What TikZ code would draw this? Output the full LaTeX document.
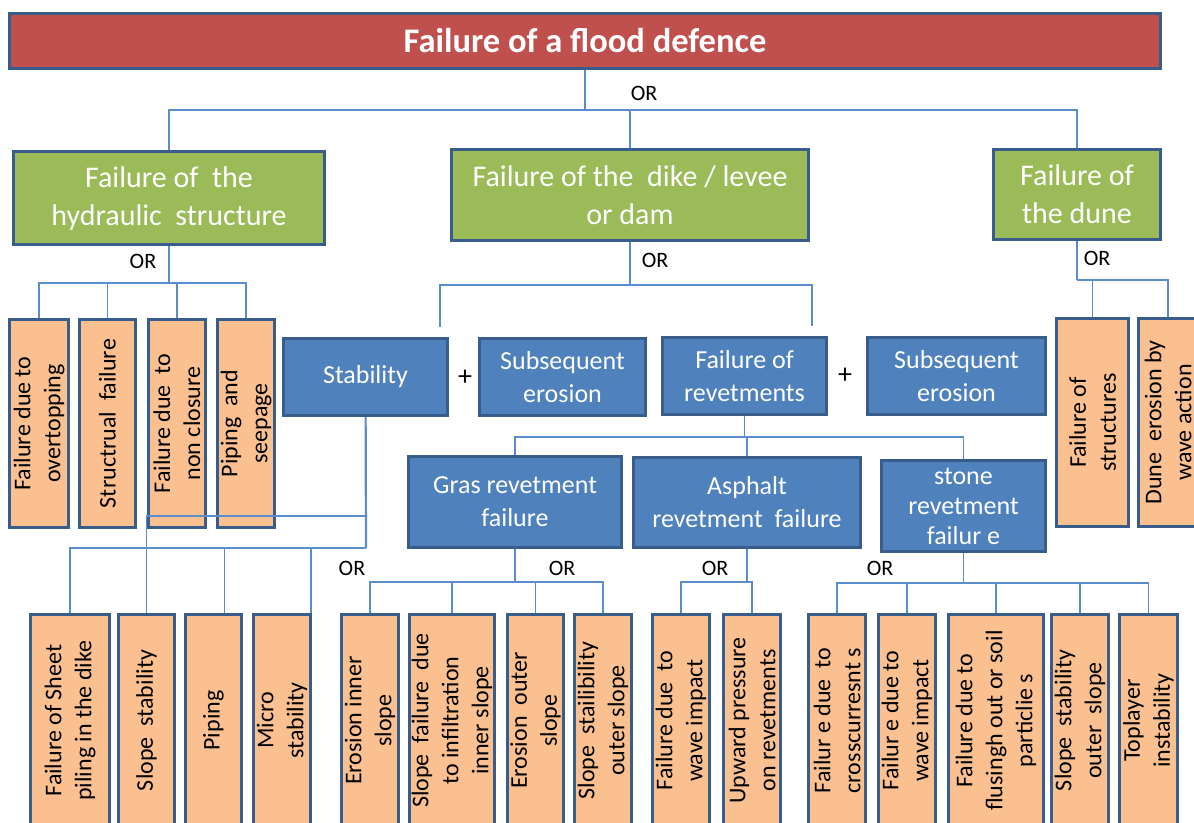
\documentclass[tikz,border=0pt]{standalone}
\usepackage{fontspec}
\setmainfont{Carlito}
\definecolor{floodred}{HTML}{C0504D}
\definecolor{leafgreen}{HTML}{9BBB59}
\definecolor{boxblue}{HTML}{4F81BD}
\definecolor{peach}{HTML}{FAC090}
\definecolor{edgeblue}{HTML}{385D8A}
\definecolor{linkblue}{HTML}{5B8CCB}
\tikzset{
  link/.style={draw=linkblue, line width=1.3pt},
  boxbase/.style={draw=edgeblue, line width=3pt, inner sep=0pt, align=center},
  redbox/.style={boxbase, fill=floodred, text=white, font=\fontsize{34.5}{40}\selectfont\bfseries},
  greenbox/.style={boxbase, fill=leafgreen, text=white, font=\fontsize{30}{38}\selectfont},
  bluebox/.style={boxbase, fill=boxblue, text=white, font=\fontsize{26}{33}\selectfont},
  peachbox/.style={boxbase, fill=peach, text=black, rotate=90, font=\fontsize{24}{30}\selectfont},
  gate/.style={inner sep=0pt, font=\fontsize{22}{24}\selectfont},
  boxsize/.style 2 args={minimum width=#1-3, minimum height=#2-3},
  peachsize/.style 2 args={minimum height=#1-3, minimum width=#2-3}
}
\begin{document}
\begin{tikzpicture}[x=1pt, y=-1pt]
    \useasboundingbox (0,0) rectangle (1194,822);
    \clip (0,0) rectangle (1194,822);

    % top event and the three main branches
    \node[redbox, boxsize={1154}{58}] (top) at (585,41) {Failure of a flood defence};
    \node[greenbox, boxsize={314}{96}] (hyd) at (169,198) {Failure of\ \ the\\hydraulic\ \ structure};
    \node[greenbox, boxsize={360}{94}] (dike) at (630,195) {Failure of the\ \ dike / levee\\or dam};
    \node[greenbox, boxsize={170}{93}] (dune) at (1077,194.5) {Failure of\\the dune};

    % dike mechanisms
    \node[bluebox, boxsize={167}{80}] (stab) at (365.5,377) {Stability};
    \node[bluebox, boxsize={169}{80}] (sub1) at (562.5,377) {Subsequent\\erosion};
    \node[bluebox, boxsize={167}{80}] (rev) at (744.5,376) {Failure of\\revetments};
    \node[bluebox, boxsize={181}{80}] (sub2) at (956.5,376) {Subsequent\\erosion};
    \node[font=\fontsize{28}{30}\selectfont] (plusA) at (465,378) {+};
    \node[font=\fontsize{28}{30}\selectfont] (plusB) at (845,376) {+};

    % revetment types
    \node[bluebox, boxsize={216}{94}] (gras) at (515,502) {Gras revetment\\failure};
    \node[bluebox, boxsize={230}{93}] (asph) at (747,502.5) {Asphalt\\revetment\ \ failure};
    \node[bluebox, boxsize={167}{94}, font=\fontsize{26}{30}\selectfont] (stone) at (963.5,506) {stone\\revetment\\failur e};

    % basic events
    \foreach \n/\x/\w/\txt in {h1/39/62/{Failure due to\\overtopping}, h2/107.5/59/{Structrual\ \ failure},
        h3/177/60/{Failure due\ \ to\\non closure}, h4/246/60/{Piping\ \ and\\seepage}}
        \node[peachbox, peachsize={\w}{211}] (\n) at (\x,423.5) {\txt};
    \foreach \n/\x/\w/\txt in {d1/1092.5/75/{Failure of\\structures}, d2/1168/62/{Dune\ \ erosion by\\wave action}}
        \node[peachbox, peachsize={\w}{211}] (\n) at (\x,422.5) {\txt};
    \foreach \n/\x/\w/\txt in {s1/70/82/{Failure of Sheet\\piling in the dike}, s2/146.5/59/{Slope\ \ stability},
        s3/213.5/59/{Piping}, s4/282/60/{Micro\\stability},
        g1/370/60/{Erosion inner\\slope}, g2/452/88/{Slope\ \ failure\ \ due\\to infiltration\\inner slope},
        g3/535.5/59/{Erosion\ \ outer\\slope}, g4/603/60/{Slope\ \ stailibility\\outer slope},
        a1/681/60/{Failure due\ \ to\\wave impact}, a2/752/60/{Upward pressure\\on revetments},
        t1/837/60/{Failur e due\ \ to\\crosscurresnt s}, t2/907/60/{Failur e due to\\wave impact},
        t3/996/98/{Failure due to\\flusingh out or soil\\particlie s}, t4/1080/60/{Slope\ \ stability\\outer\ \ slope},
        t5/1148.5/61/{Toplayer\\instability}}
        \node[peachbox, peachsize={\w}{215}] (\n) at (\x,720.5) {\txt};

    % gates
    \node[gate] (or0) at (644,93) {OR};
    \node[gate] (or1) at (143,261) {OR};
    \node[gate] (or2) at (655,260) {OR};
    \node[gate] (or3) at (1097,258) {OR};
    \node[gate] (or4) at (352,568) {OR};
    \node[gate] (or5) at (562,568) {OR};
    \node[gate] (or6) at (715,568) {OR};
    \node[gate] (or7) at (880,568) {OR};

    % junctions
    \coordinate (j0) at (585,110);
    \coordinate (jh) at (169,283);
    \coordinate (jd) at (630,285);
    \coordinate (jdu) at (1077,280);
    \coordinate (jr) at (744.5,437);
    \coordinate (js) at (366,548);
    \coordinate (js2) at (366,516);
    \coordinate (jg) at (515,582);
    \coordinate (ja) at (747,582);
    \coordinate (jt) at (963.5,583);

    % connectors
    \draw[link] (top) -- (j0);
    \foreach \n in {hyd,dike,dune} \draw[link] (j0) -| (\n);
    \draw[link] (hyd) -- (jh);
    \foreach \n in {h1,h2,h3,h4} \draw[link] (jh) -| (\n);
    \draw[link] (dune) -- (jdu);
    \foreach \n in {d1,d2} \draw[link] (jdu) -| (\n);
    \draw[link] (dike) -- (jd);
    \draw[link] (jd) -| ([shift={(-9pt,10pt)}]stab.north east);
    \draw[link] (jd) -| ([shift={(-16pt,10pt)}]rev.north east);
    \draw[link] (rev) -- (jr);
    \foreach \n in {gras,asph,stone} \draw[link] (jr) -| (\n);
    \draw[link] (gras) -- (jg);
    \foreach \n in {g1,g2,g3,g4} \draw[link] (jg) -| (\n);
    \draw[link] (asph) -- (ja);
    \foreach \n in {a1,a2} \draw[link] (ja) -| (\n);
    \draw[link] (stone) -- (jt);
    \foreach \n in {t1,t2,t3,t4,t5} \draw[link] (jt) -| (\n);
    \draw[link, line width=2.2pt] (stab) -- (js);
    \draw[link] (js) -| (s1);
    \draw[link] (js2) -| (s2);
    \draw[link] (js) -| ([xshift=11pt]s3.east);
    \draw[link] (js) -| ([xshift=29pt]s4.east);
\end{tikzpicture}
\end{document}
